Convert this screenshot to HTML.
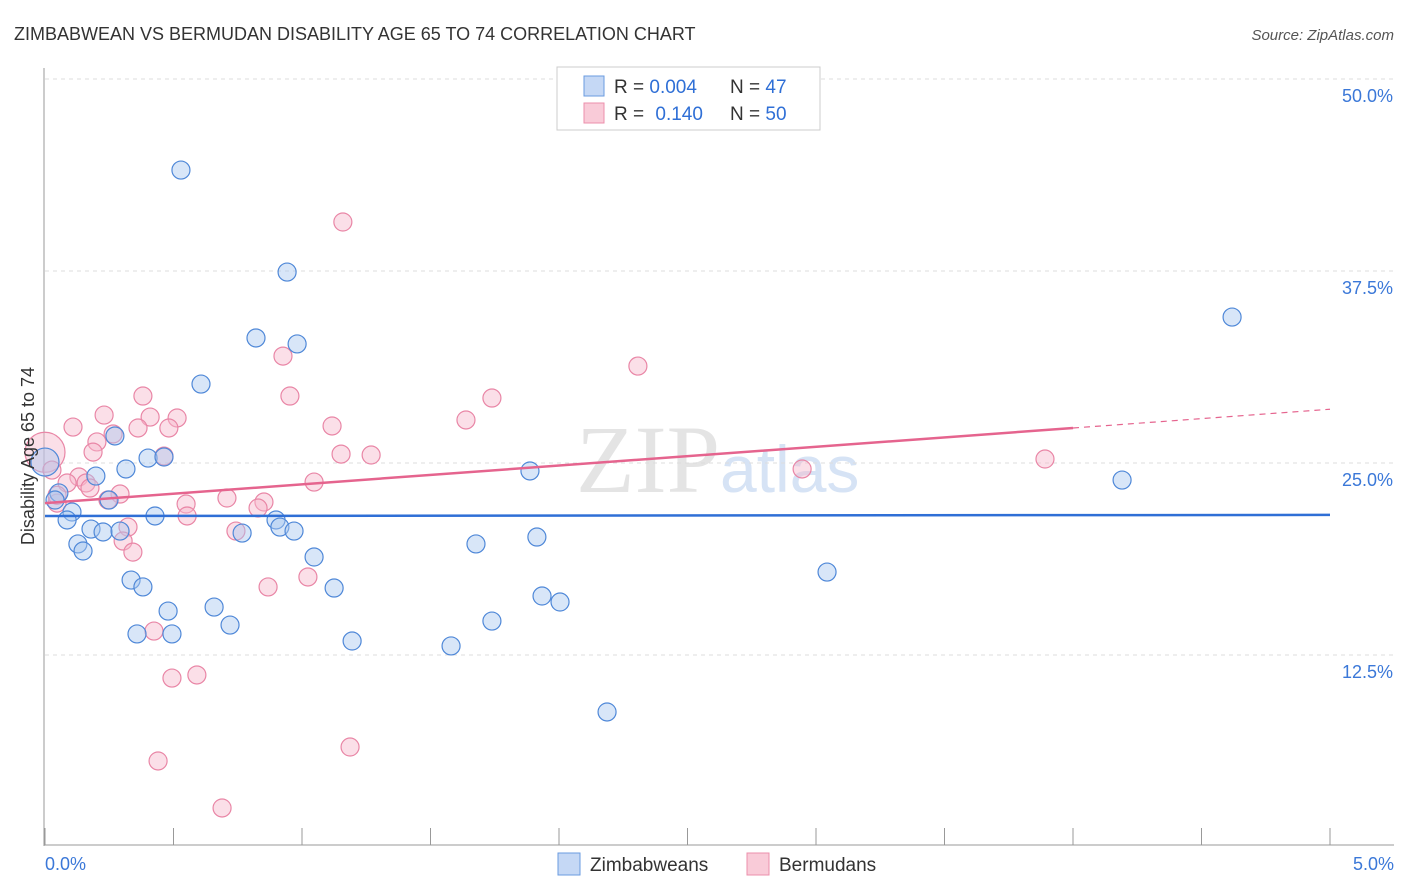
<!DOCTYPE html>
<html><head><meta charset="utf-8"><style>
body{margin:0;background:#fff;font-family:"Liberation Sans",sans-serif;}
svg{display:block}
</style></head><body>
<svg id="c" width="1406" height="892" xmlns="http://www.w3.org/2000/svg">
<text x="14" y="40" font-size="18" fill="#333">ZIMBABWEAN VS BERMUDAN DISABILITY AGE 65 TO 74 CORRELATION CHART</text>
<text x="1394" y="40" font-size="15" fill="#555" font-style="italic" text-anchor="end">Source: ZipAtlas.com</text>
<text x="720" y="492" font-size="96" fill="#e4e4e4" font-family="Liberation Serif" text-anchor="end">ZIP</text>
<text x="720" y="492" font-size="66" fill="#d6e3f5">atlas</text>
<g id="grid"></g><g id="axes"></g><g id="pts"></g><g id="trend"></g>
<text transform="translate(34,456) rotate(-90)" font-size="18" fill="#333" text-anchor="middle">Disability Age 65 to 74</text>
<g>
<rect x="557" y="67" width="263" height="63" fill="#fff" stroke="#ccc"/>
<rect x="584" y="76" width="20" height="20" fill="#c5d8f5" stroke="#6a9be0"/>
<rect x="584" y="103" width="20" height="20" fill="#f9cbd8" stroke="#ec8fab"/>
<text x="614" y="93" font-size="19" fill="#333">R = <tspan fill="#2f6fd6">0.004</tspan></text>
<text x="730" y="93" font-size="19" fill="#333">N = <tspan fill="#2f6fd6">47</tspan></text>
<text x="614" y="120" font-size="19" fill="#333">R = <tspan fill="#2f6fd6" dx="6">0.140</tspan></text>
<text x="730" y="120" font-size="19" fill="#333">N = <tspan fill="#2f6fd6">50</tspan></text>
</g>
<g>
<rect x="558" y="853" width="22" height="22" fill="#c5d8f5" stroke="#6a9be0"/>
<text x="590" y="871" font-size="19" fill="#333">Zimbabweans</text>
<rect x="747" y="853" width="22" height="22" fill="#f9cbd8" stroke="#ec8fab"/>
<text x="779" y="871" font-size="19" fill="#333">Bermudans</text>
</g>
</svg>
<script>
const yTicks=[50,37.5,25,12.5];
const xTickLabels=["0.0%","5.0%"];
const blueX=[0.529,0.942,0.821,0.981,0.607,0.272,0.401,0.463,0.315,0.198,0,0.054,0.039,0.249,0.105,0.086,0.428,0.179,0.226,0.292,0.128,0.148,0.767,0.899,0.914,0.969,1.047,0.335,0.381,0.479,0.658,0.720,0.358,0.494,1.125,1.195,1.677,1.739,1.580,1.887,1.914,1.934,2.004,2.187,3.043,4.191,4.619];
const blueY=[44.07,37.43,33.14,32.75,30.14,26.76,25.32,25.39,24.61,24.15,25.06,23.05,22.59,22.59,21.81,21.29,21.55,20.70,20.51,20.57,19.73,19.27,20.44,21.29,20.83,20.57,18.88,17.38,16.93,15.36,15.62,14.45,13.87,13.87,16.86,13.41,19.73,14.71,13.09,24.48,20.18,16.34,15.95,8.79,17.90,23.89,34.50];
const pinkX=[0,0.027,0.109,0.230,0.202,0.187,0.265,0.381,0.409,0.362,0.514,0.482,0.463,0.132,0.086,0.160,0.175,0.292,0.245,0.047,0.323,0.304,0.342,0.549,0.553,0.708,0.852,0.829,0.743,0.868,1.023,1.047,0.926,0.953,1.117,1.159,1.152,1.269,0.424,0.494,0.591,0.440,0.689,1.187,1.638,1.739,2.307,2.946,3.891,0.047];
const pinkY=[25.7,24.54,27.34,28.12,26.37,25.71,26.89,29.36,27.99,27.28,27.93,27.28,25.45,24.09,23.70,23.70,23.37,22.98,22.59,22.39,20.83,19.92,19.20,22.33,21.55,22.72,22.46,22.07,20.57,16.93,17.58,23.76,31.96,29.36,27.41,40.69,25.58,25.52,14.06,11.00,11.20,5.60,2.54,6.51,27.80,29.23,31.31,24.61,25.26,22.9];
const blueTrend=[21.55,21.62];
const pinkTrend=[22.39,28.5];
const X=v=>45+v/5*1285, Y=v=>847-v/12.5*192;
const NS="http://www.w3.org/2000/svg";
function mk(p,t,a){const e=document.createElementNS(NS,t);for(const k in a)e.setAttribute(k,a[k]);document.getElementById(p).appendChild(e);return e;}
yTicks.forEach(t=>{
 const l=mk('grid','line',{x1:45,x2:1394,y1:Y(t),y2:Y(t),stroke:'#ddd','stroke-dasharray':'4,4'});
 
 
 const tx=mk('grid','text',{x:1393,y:Y(t)+23,'font-size':18,fill:'#3b78d8','text-anchor':'end'});
 tx.textContent=t.toFixed(1)+'%';
 
 
});
mk('axes','line',{x1:44,x2:44,y1:68,y2:846,stroke:'#999'});
mk('axes','line',{x1:44,x2:1394,y1:845,y2:845,stroke:'#999'});
for(let i=0;i<=10;i++){const t=mk('axes','line',{x1:X(i*0.5),x2:X(i*0.5),y1:828,y2:845,stroke:'#999'});
 
 }
xTickLabels.forEach((s,i)=>{const t=mk('axes','text',{x:i?1394:45,y:870,'font-size':18,fill:'#3b78d8','text-anchor':i?'end':'start'});t.textContent=s;
 
 });
function pts(xs,ys,f,s,name){xs.forEach((x,i)=>{const r=(x===0)?(ys[i]>25.5?20:14):9;
 const c=mk('pts','circle',{cx:X(x),cy:Y(ys[i]),r:r,fill:f,'fill-opacity':0.45,stroke:s,'stroke-width':1.2});
 
 });}
pts(pinkX,pinkY,'#f6b8cb','#e986a6','bermudan-point');
pts(blueX,blueY,'#a9c7f0','#4f88d8','zimbabwean-point');
const bl=mk('trend','line',{x1:X(0),x2:X(5),y1:Y(blueTrend[0]),y2:Y(blueTrend[1]),stroke:'#2f6fd6','stroke-width':2.5});


const pm=v=>pinkTrend[0]+(pinkTrend[1]-pinkTrend[0])*v/5;
const pl=mk('trend','line',{x1:X(0),x2:X(4),y1:Y(pm(0)),y2:Y(pm(4)),stroke:'#e5648e','stroke-width':2.5});


const pd=mk('trend','line',{x1:X(4),x2:X(5),y1:Y(pm(4)),y2:Y(pm(5)),stroke:'#e5648e','stroke-width':1.2,'stroke-dasharray':'6,5'});


</script>
</body></html>
